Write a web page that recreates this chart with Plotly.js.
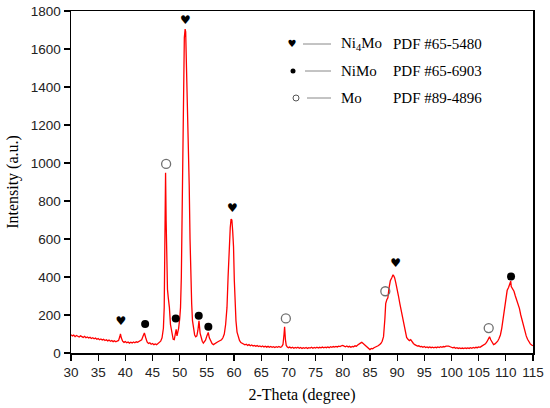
<!DOCTYPE html>
<html><head><meta charset="utf-8">
<script src="https://cdn.plot.ly/plotly-3.0.1.min.js"></script>
<style>html,body{margin:0;padding:0;background:#fff}#c{width:550px;height:408px}</style>
</head><body><div id="c"></div>
<script>
// 2-Theta (degree)
const twoTheta = [
30.00,30.25,30.50,30.75,31.00,31.25,31.50,31.75,32.00,32.25,32.50,32.75,33.00,33.25,33.50,33.75,34.00,34.25,34.50,34.75,
35.00,35.25,35.50,35.75,36.00,36.25,36.50,36.75,37.00,37.25,37.50,37.75,38.00,38.25,38.50,38.75,39.00,39.10,39.25,39.50,
39.75,40.00,40.25,40.50,40.75,41.00,41.25,41.50,41.75,42.00,42.25,42.50,42.75,43.00,43.25,43.50,43.75,44.00,44.25,44.50,
44.75,45.00,45.25,45.50,45.75,46.00,46.25,46.50,46.75,47.00,47.15,47.30,47.40,47.50,47.60,47.75,47.90,48.10,48.30,48.55,
48.80,49.00,49.20,49.35,49.50,49.60,49.80,50.00,50.15,50.30,50.50,50.70,50.85,51.00,51.10,51.25,51.45,51.60,51.75,51.90,
52.05,52.20,52.35,52.55,52.75,52.95,53.15,53.35,53.55,53.75,53.95,54.15,54.35,54.55,54.75,55.00,55.25,55.45,55.70,55.95,
56.20,56.45,56.70,56.95,57.20,57.45,57.70,57.95,58.20,58.45,58.70,58.90,59.10,59.30,59.45,59.60,59.75,59.90,60.05,60.20,
60.35,60.55,60.75,61.00,61.25,61.50,61.75,62.00,62.25,62.50,62.75,63.00,63.25,63.50,63.75,64.00,64.25,64.50,64.75,65.00,
65.25,65.50,65.75,66.00,66.25,66.50,66.75,67.00,67.25,67.50,67.75,68.00,68.25,68.50,68.75,69.00,69.20,69.30,69.45,69.60,
69.80,70.00,70.25,70.50,70.75,71.00,71.25,71.50,71.75,72.00,72.25,72.50,72.75,73.00,73.25,73.50,73.75,74.00,74.25,74.50,
74.75,75.00,75.25,75.50,75.75,76.00,76.25,76.50,76.75,77.00,77.25,77.50,77.75,78.00,78.25,78.50,78.75,79.00,79.25,79.50,
79.75,80.00,80.25,80.50,80.75,81.00,81.25,81.50,81.75,82.00,82.25,82.50,82.75,83.00,83.25,83.50,83.75,84.00,84.25,84.50,
84.75,85.00,85.25,85.50,85.75,86.00,86.25,86.50,86.75,87.00,87.25,87.50,87.75,87.90,88.10,88.30,88.50,88.75,89.00,89.25,
89.40,89.55,89.75,90.00,90.25,90.50,90.75,91.00,91.25,91.50,91.75,92.00,92.25,92.50,92.75,93.00,93.25,93.50,93.75,94.00,
94.25,94.50,94.75,95.00,95.25,95.50,95.75,96.00,96.25,96.50,96.75,97.00,97.25,97.50,97.75,98.00,98.25,98.50,98.75,99.00,
99.25,99.50,99.75,100.00,100.25,100.50,100.75,101.00,101.25,101.50,101.75,102.00,102.25,102.50,102.75,103.00,103.25,103.50,103.75,104.00,
104.25,104.50,104.75,105.00,105.25,105.50,105.75,106.00,106.25,106.50,106.75,107.00,107.25,107.50,107.75,108.00,108.25,108.50,108.75,109.00,
109.25,109.50,109.75,110.00,110.25,110.50,110.75,110.90,111.00,111.25,111.50,111.75,112.00,112.25,112.50,112.75,113.00,113.25,113.50,113.75,
114.00,114.25,114.50,114.75,115.00
];
// Intensity (a.u.)
const intensity = [
96,90,94,86,92,88,84,90,85,82,88,80,84,79,83,76,80,75,79,72,
76,70,74,68,72,66,70,64,68,62,66,60,64,59,63,66,88,100,80,62,
56,60,54,58,52,57,53,58,54,59,56,62,64,70,88,105,80,58,50,54,
46,50,44,48,44,50,52,62,80,130,240,600,948,700,380,335,290,240,150,100,
72,70,95,125,90,100,130,180,240,400,900,1400,1660,1705,1690,1500,1280,1100,880,600,
380,260,170,120,95,85,90,120,170,105,80,62,52,58,68,90,108,80,64,50,
44,50,52,58,62,66,70,80,100,150,240,400,560,660,705,700,640,560,380,250,
170,110,86,66,55,50,46,43,46,40,44,38,42,37,40,35,39,34,37,33,
37,32,36,31,35,30,34,30,33,29,33,30,34,30,33,45,100,138,70,40,
32,28,31,26,30,25,29,26,30,25,29,24,28,25,29,24,28,26,30,25,
29,26,30,26,30,27,31,27,31,28,32,28,33,30,34,31,35,32,36,34,
38,40,36,33,37,32,35,30,34,33,38,36,42,45,52,56,50,40,34,28,
22,18,24,22,28,30,34,38,44,50,62,86,180,260,280,290,340,380,395,412,
405,395,370,340,300,260,225,180,140,105,82,72,65,70,58,50,44,40,36,38,
33,35,30,34,29,32,28,32,28,31,27,31,28,32,29,33,30,34,32,36,
38,36,33,30,27,30,25,28,24,27,23,26,23,27,24,27,24,28,25,29,
26,30,28,32,30,35,38,42,48,58,72,85,68,52,44,48,54,62,76,95,
130,180,240,290,330,345,360,378,350,335,325,300,280,260,235,200,170,140,115,90,
72,58,48,42,38
];
// Phase markers
const ni4moX = [39.2, 51.04, 59.67, 89.72];
const ni4moY = [161, 1749, 758, 468];
const nimoX = [43.64, 49.27, 53.5, 55.27, 110.96];
const nimoY = [153, 182, 196, 138, 403];
const moX = [47.5, 69.53, 87.83, 106.85];
const moY = [995, 182, 325, 131];
// Legend
const legendPhases = ['Ni<sub>4</sub>Mo', 'NiMo', 'Mo'];
const legendPdf = ['PDF #65-5480', 'PDF #65-6903', 'PDF #89-4896'];

const L = 71, R = 17, T = 11, B = 55, W = 550, H = 408;
const pw = W - L - R, ph = H - T - B;
const px = v => (v - L) / pw;
const py = v => (H - B - v) / ph;
const rowsY = [44, 71, 98];

const traces = [
  {x: twoTheta, y: intensity, type: 'scatter', mode: 'lines',
   line: {color: '#ff0000', width: 1.3}, hoverinfo: 'skip'},
  {x: ni4moX, y: ni4moY, type: 'scatter', mode: 'text', text: ni4moX.map(() => '♥'),
   textfont: {family: 'DejaVu Sans', size: 12, color: '#000'}, textposition: 'middle center'},
  {x: nimoX, y: nimoY, type: 'scatter', mode: 'markers',
   marker: {symbol: 'circle', size: 8, color: '#000'}},
  {x: moX, y: moY, type: 'scatter', mode: 'markers',
   marker: {symbol: 'circle-open', size: 9, color: '#707070', line: {width: 1.3, color: '#707070'}}},
  {x: [px(292)], y: [py(rowsY[0])], xaxis: 'x2', yaxis: 'y2', type: 'scatter', mode: 'text', text: ['♥'],
   textfont: {family: 'DejaVu Sans', size: 10, color: '#000'}},
  {x: [px(293)], y: [py(rowsY[1])], xaxis: 'x2', yaxis: 'y2', type: 'scatter', mode: 'markers',
   marker: {symbol: 'circle', size: 5, color: '#000'}},
  {x: [px(296)], y: [py(rowsY[2])], xaxis: 'x2', yaxis: 'y2', type: 'scatter', mode: 'markers',
   marker: {symbol: 'circle-open', size: 6, color: '#555', line: {width: 1, color: '#555'}}}
];

const annotations = [], shapes = [];
const lineStart = [303, 305, 307];
legendPhases.forEach((p, i) => {
  shapes.push({type: 'line', xref: 'paper', yref: 'paper', x0: px(lineStart[i]), x1: px(331),
    y0: py(rowsY[i]), y1: py(rowsY[i]), line: {color: '#888', width: 1}});
  annotations.push({xref: 'paper', yref: 'paper', x: px(339), y: py(rowsY[i]), xanchor: 'left', yanchor: 'middle',
    text: p, showarrow: false, font: {family: 'Liberation Serif', size: 15, color: '#000'}});
  annotations.push({xref: 'paper', yref: 'paper', x: px(391), y: py(rowsY[i]), xanchor: 'left', yanchor: 'middle',
    text: legendPdf[i], showarrow: false, font: {family: 'Liberation Serif', size: 15, color: '#000'}});
});

const layout = {
  width: W, height: H,
  margin: {l: L, r: R, t: T, b: B, pad: 0},
  paper_bgcolor: '#fff', plot_bgcolor: '#fff',
  showlegend: false,
  font: {family: 'Liberation Sans, Arial', color: '#222'},
  xaxis: {range: [30, 115], tickvals: [30,35,40,45,50,55,60,65,70,75,80,85,90,95,100,105,110,115],
    ticks: 'outside', ticklen: 6, tickwidth: 1.2, tickcolor: '#000',
    showline: true, linecolor: '#000', linewidth: 1.5, mirror: true, showgrid: false, zeroline: false,
    tickfont: {family: 'Liberation Sans', size: 13.5, color: '#222'},
    title: {text: '2-Theta (degree)', font: {family: 'Liberation Serif', size: 16, color: '#000'}, standoff: 10}},
  yaxis: {range: [0, 1800], dtick: 200, ticks: 'outside', ticklen: 6, tickwidth: 1.2, tickcolor: '#000',
    showline: true, linecolor: '#000', linewidth: 1.5, mirror: true, showgrid: false, zeroline: false,
    tickfont: {family: 'Liberation Sans', size: 13.5, color: '#222'},
    title: {text: 'Intensity (a.u.)', font: {family: 'Liberation Serif', size: 16, color: '#000'}, standoff: 8}},
  xaxis2: {overlaying: 'x', range: [0, 1], visible: false, fixedrange: true},
  yaxis2: {overlaying: 'y', range: [0, 1], visible: false, fixedrange: true},
  shapes: shapes,
  annotations: annotations
};

Plotly.newPlot('c', traces, layout, {displayModeBar: false, staticPlot: true});
</script>
</body></html>
